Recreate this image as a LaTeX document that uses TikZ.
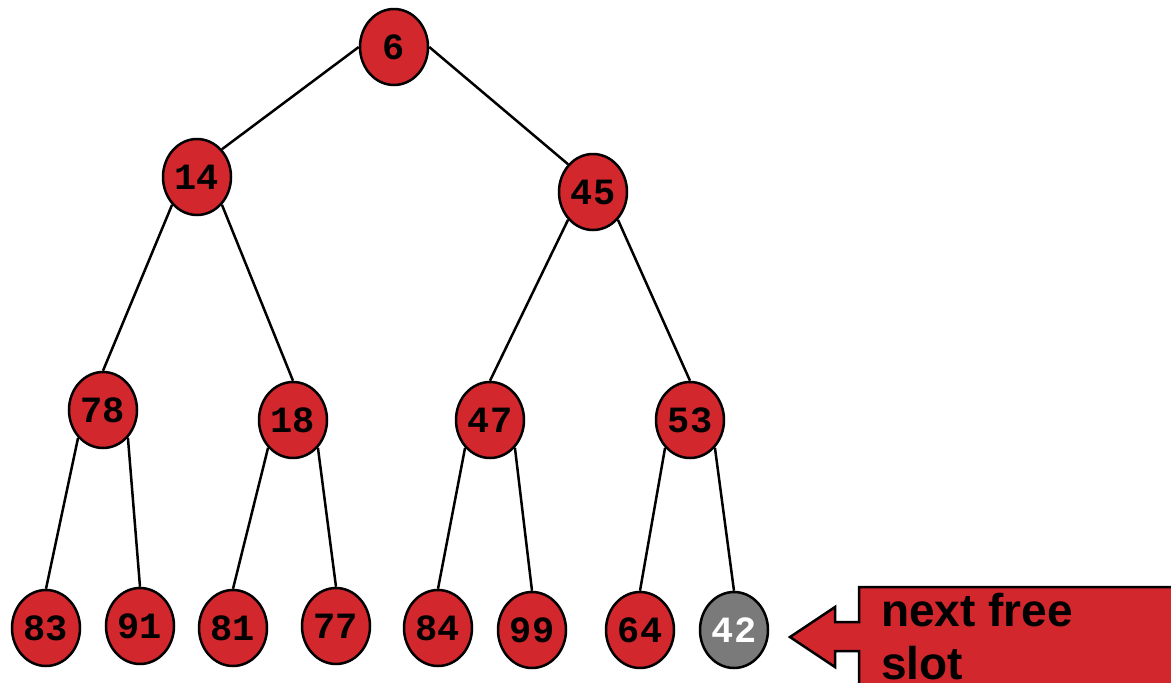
\documentclass[tikz,border=0pt]{standalone}
\usepackage{fontspec}
\newfontfamily\monobold{Liberation Mono}
\newfontfamily\sansbold{Liberation Sans}
\usetikzlibrary{shapes.geometric}
\definecolor{tasred}{RGB}{211,39,46}
\definecolor{tasgray}{RGB}{122,122,122}

\begin{document}
\begin{tikzpicture}[x=1pt, y=-1pt, line width=2.5pt,
    cle/.style={ellipse, draw, fill=tasred, minimum width=68pt, minimum height=76pt, inner sep=0pt,
      font=\monobold\bfseries\fontsize{37}{37}\selectfont},
    libre/.style={cle, fill=tasgray, text=white}]
    \useasboundingbox (0,0) rectangle (1171,683);
    \node[cle] (n6) at (394,47) {6};
    \node[cle] (n14) at (197,177) {14};
    \node[cle] (n45) at (593,192) {45};
    \node[cle] (n78) at (103,410) {78};
    \node[cle] (n18) at (293,420) {18};
    \node[cle] (n47) at (490,420) {47};
    \node[cle] (n53) at (690,420) {53};
    \node[cle] (n83) at (46,628) {83};
    \node[cle] (n91) at (140,626) {91};
    \node[cle] (n81) at (233,628) {81};
    \node[cle] (n77) at (336,626) {77};
    \node[cle] (n84) at (438,628) {84};
    \node[cle] (n99) at (532,630) {99};
    \node[cle] (n64) at (640,630) {64};
    \node[libre] (n42) at (734,630) {42};
    \draw (n6.west) -- (n14.north east);
    \draw (n6.east) -- (n45.north west);
    \draw (n14.south west) -- (n78.north);
    \draw (n14.south east) -- (n18.north);
    \draw (n45.south west) -- (n47.north);
    \draw (n45.south east) -- (n53.north);
    \draw (n78.south west) -- (n83.north);
    \draw (n78.south east) -- (n91.north);
    \draw (n18.south west) -- (n81.north);
    \draw (n18.south east) -- (n77.north);
    \draw (n47.south west) -- (n84.north);
    \draw (n47.south east) -- (n99.north);
    \draw (n53.south west) -- (n64.north);
    \draw (n53.south east) -- (n42.north);
    \begin{scope}
      \clip (0,0) rectangle (1171,683);
      \draw[fill=tasred] (859,587) -| (1180,700) -| (859,651) -| (835,667) -- (790,637) -- (835,607) |- (859,622) -- cycle;
      \node[anchor=north west, inner sep=0pt, align=left,
        font=\sansbold\bfseries\fontsize{46}{53}\selectfont] (slot) at (880,592) {next free\\slot};
    \end{scope}
\end{tikzpicture}
\end{document}
